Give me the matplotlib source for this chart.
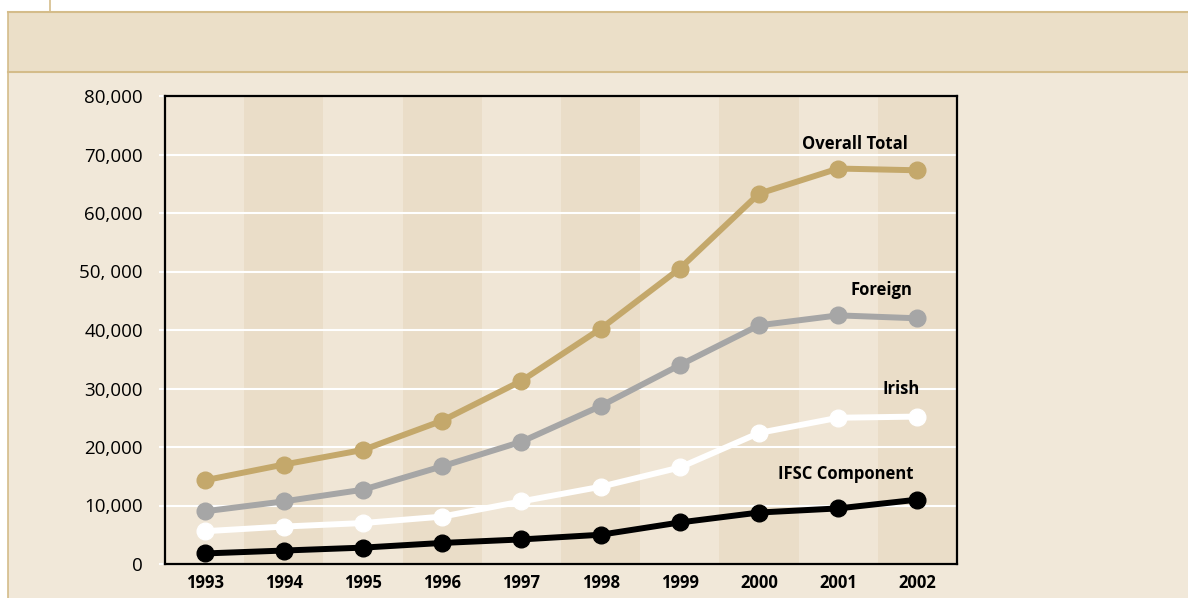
import matplotlib
matplotlib.use('Agg')
import matplotlib.pyplot as plt
from matplotlib.patches import Rectangle
from matplotlib.lines import Line2D

years = ['1993', '1994', '1995', '1996', '1997', '1998', '1999', '2000', '2001', '2002']
overall = [14300, 17000, 19500, 24500, 31300, 40200, 50500, 63300, 67600, 67300]
foreign = [9000, 10700, 12700, 16700, 20900, 27000, 34000, 40800, 42500, 42000]
irish = [5600, 6400, 7000, 8100, 10700, 13200, 16500, 22400, 25000, 25200]
ifsc = [1800, 2300, 2800, 3600, 4200, 5000, 7100, 8800, 9500, 11000]

yticks = [0, 10000, 20000, 30000, 40000, 50000, 60000, 70000, 80000]
ylabels = ['0', '10,000', '20,000', '30,000', '40,000', '50, 000', '60,000', '70,000', '80,000']

plt.rcParams['font.family'] = ['Open Sans', 'DejaVu Sans']

W, H = 1188, 598
fig = plt.figure(figsize=(W / 100, H / 100), dpi=100)
fig.patch.set_facecolor('white')

border = '#d4bc8a'
# page panel and header band (kept behind the axes)
fig.patches.append(Rectangle((8 / W, 0), 1 - 8 / W, 1 - 12 / H, transform=fig.transFigure,
                             facecolor='#f1e8d9', edgecolor='none', zorder=-3))
fig.patches.append(Rectangle((8 / W, 1 - 72 / H), 1 - 8 / W, 60 / H, transform=fig.transFigure,
                             facecolor='#ebdfc8', edgecolor='none', zorder=-2))
for yy in [12, 72]:
    fig.lines.append(Line2D([8 / W, 1], [1 - yy / H, 1 - yy / H], transform=fig.transFigure,
                            color=border, lw=1.5, zorder=-1))
fig.lines.append(Line2D([8 / W, 8 / W], [0, 1 - 12 / H], transform=fig.transFigure,
                        color=border, lw=1.2, zorder=-1))
fig.lines.append(Line2D([50 / W, 50 / W], [1 - 12 / H, 1], transform=fig.transFigure,
                        color=border, lw=1.2, zorder=-1))

ax = fig.add_axes([165 / W, 1 - 564 / H, 792 / W, 468 / H])
ax.set_zorder(1)
ax.set_facecolor('#f0e6d6')

x = list(range(len(years)))
for i in x:
    if i % 2 == 1:
        ax.axvspan(i - 0.5, i + 0.5, color='#eaddc8', lw=0, zorder=0)

for v in yticks[1:-1]:
    ax.axhline(v, color='white', lw=1.5, zorder=1)

series = [(overall, '#c4a86b'), (foreign, '#a6a6a6'), (irish, 'white'), (ifsc, 'black')]
for vals, col in series:
    ax.plot(x, vals, color=col, lw=4.3, marker='o', ms=12, mec=col, zorder=3)

ax.set_xlim(-0.5, len(years) - 0.5)
ax.set_ylim(0, 80000)
ax.set_xticks(x)
ax.set_xticklabels(years, fontsize=12, fontweight='bold')
ax.set_yticks(yticks)
ax.set_yticklabels(ylabels, fontsize=13.5)
ax.tick_params(axis='x', length=0, pad=7)
ax.tick_params(axis='y', length=4, color='white', width=1.5, pad=12)

for s in ax.spines.values():
    s.set_color('black')
    s.set_linewidth(1.6)

kw = dict(fontsize=12, fontweight='bold', ha='center', va='center', zorder=4)
ax.text(8.21, 71800, 'Overall Total', **kw)
ax.text(8.54, 46800, 'Foreign', **kw)
ax.text(8.79, 29900, 'Irish', **kw)
ax.text(8.10, 15400, 'IFSC Component', **kw)

plt.savefig('out.png', dpi=100)
